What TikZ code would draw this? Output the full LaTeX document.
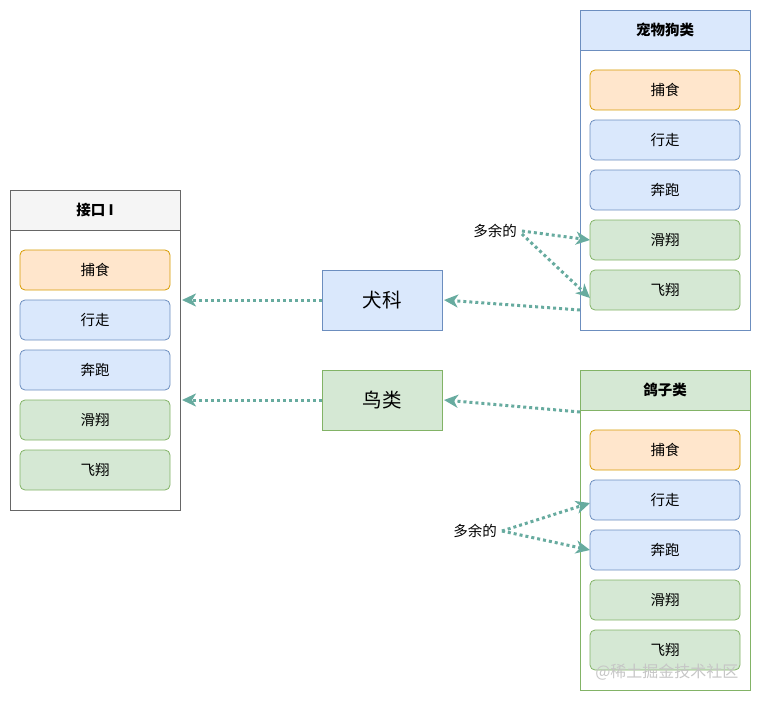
\documentclass[tikz,border=0pt]{standalone}
\usepackage{fontspec}
\setmainfont{Noto Sans CJK SC}
\usepackage{xcolor}
\usetikzlibrary{arrows.meta,positioning}
\definecolor{bluefill}{HTML}{DAE8FC}
\definecolor{blueline}{HTML}{6C8EBF}
\definecolor{greenfill}{HTML}{D5E8D4}
\definecolor{greenline}{HTML}{82B366}
\definecolor{orangefill}{HTML}{FFE6CC}
\definecolor{orangeline}{HTML}{D79B00}
\definecolor{grayfill}{HTML}{F5F5F5}
\definecolor{grayline}{HTML}{666666}
\definecolor{arrteal}{HTML}{67AB9F}

\begin{document}
\begin{tikzpicture}[x=1pt, y=-1pt,
    frame/.style={draw=#1, line width=0.8pt, minimum width=170pt, minimum height=320pt, inner sep=0pt, outer sep=0pt},
    head/.style 2 args={draw=#2, fill=#1, line width=0.8pt, minimum width=170pt, minimum height=40pt,
                inner sep=0pt, outer sep=0pt, font=\fontsize{14.5}{16}\selectfont\bfseries},
    item/.style 2 args={draw=#2, fill=#1, line width=0.8pt, rounded corners=5pt, minimum width=150pt,
                minimum height=40pt, inner sep=0pt, outer sep=0pt, font=\fontsize{14.5}{16}\selectfont},
    kind/.style 2 args={draw=#2, fill=#1, line width=0.8pt, minimum width=120pt, minimum height=60pt,
                inner sep=0pt, outer sep=0pt, font=\fontsize{19.5}{21}\selectfont},
    arr/.style={arrteal, line width=3pt, dash pattern=on 3pt off 3pt,
                -{Stealth[length=14pt, width=13pt, inset=4pt]}},
    lbl/.style={font=\fontsize{14.5}{16}\selectfont, inner sep=1pt},
    node distance=10pt
]
\useasboundingbox (0,0) rectangle (761,701);

% interface I
\node[frame=grayline] (ifc) at (95,350) {};
\node[head={grayfill}{grayline}, anchor=north] (ifch) at (ifc.north) {接口 I};
\node[item={orangefill}{orangeline}, below=20pt of ifch] (ifc1) {捕食};
\node[item={bluefill}{blueline}, below=of ifc1] (ifc2) {行走};
\node[item={bluefill}{blueline}, below=of ifc2] (ifc3) {奔跑};
\node[item={greenfill}{greenline}, below=of ifc3] (ifc4) {滑翔};
\node[item={greenfill}{greenline}, below=of ifc4] (ifc5) {飞翔};

% middle
\node[kind={bluefill}{blueline}] (dogkind) at (382,300) {犬科};
\node[kind={greenfill}{greenline}] (birdkind) at (382,400) {鸟类};

% pet dog
\node[frame=blueline] (dog) at (665,170) {};
\node[head={bluefill}{blueline}, anchor=north] (dogh) at (dog.north) {宠物狗类};
\node[item={orangefill}{orangeline}, below=20pt of dogh] (dog1) {捕食};
\node[item={bluefill}{blueline}, below=of dog1] (dog2) {行走};
\node[item={bluefill}{blueline}, below=of dog2] (dog3) {奔跑};
\node[item={greenfill}{greenline}, below=of dog3] (dog4) {滑翔};
\node[item={greenfill}{greenline}, below=of dog4] (dog5) {飞翔};

% pigeon
\node[frame=greenline] (pig) at (665,530) {};
\node[head={greenfill}{greenline}, anchor=north] (pigh) at (pig.north) {鸽子类};
\node[item={orangefill}{orangeline}, below=20pt of pigh] (pig1) {捕食};
\node[item={bluefill}{blueline}, below=of pig1] (pig2) {行走};
\node[item={bluefill}{blueline}, below=of pig2] (pig3) {奔跑};
\node[item={greenfill}{greenline}, below=of pig3] (pig4) {滑翔};
\node[item={greenfill}{greenline}, below=of pig4] (pig5) {飞翔};

\node[lbl] (dogx) at (495,231) {多余的};
\node[lbl] (pigx) at (475,531) {多余的};

\draw[arr] (dogkind.west) -- ([xshift=2pt]ifc.east |- dogkind.west);
\draw[arr] (birdkind.west) -- ([xshift=2pt]ifc.east |- birdkind.west);
\draw[arr] (dog5.south -| dog.west) -- ([xshift=2pt]dogkind.east);
\draw[arr] ([yshift=-2pt]pigh.south west) -- ([xshift=2pt]birdkind.east);
\draw[arr] ([xshift=4pt]dogx.east) -- (dog4.west);
\draw[arr] ([xshift=4pt,yshift=-3pt]dogx.east) -- ([yshift=-8pt]dog5.west);
\draw[arr] ([xshift=4pt]pigx.east) -- ([yshift=-3pt]pig2.west);
\draw[arr] ([xshift=4pt]pigx.east) -- (pig3.west);

\node[text=gray!45, font=\fontsize{16}{18}\selectfont, anchor=east] (mark) at (742,672) {@稀土掘金技术社区};
\end{tikzpicture}
\end{document}
